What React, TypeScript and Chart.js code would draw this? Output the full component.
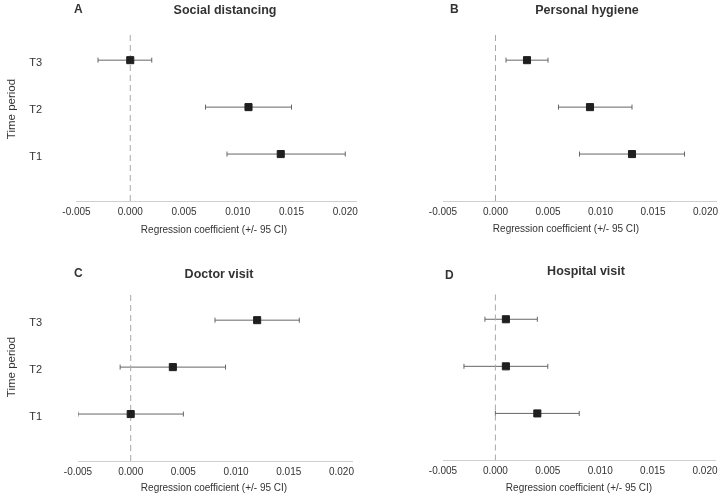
import React, { useEffect, useRef } from "react";
import { Chart, registerables } from "chart.js";

Chart.register(...registerables);

// ---------- data ----------
const periods = ["T1", "T2", "T3"];
const periodPos = [1, 2, 3];
const xTickValues = [-0.005, 0, 0.005, 0.01, 0.015, 0.02];
const xTickLabels = ["-0.005", "0.000", "0.005", "0.010", "0.015", "0.020"];

const panelLetters = ["A", "B", "C", "D"];
const panelTitles = ["Social distancing", "Personal hygiene", "Doctor visit", "Hospital visit"];
const xAxisTitle = "Regression coefficient (+/- 95 CI)";
const yAxisTitle = "Time period";

// values ordered T1, T2, T3
const socialEst = [0.014, 0.011, 0.0];
const socialLo = [0.009, 0.007, -0.003];
const socialHi = [0.02, 0.015, 0.002];

const hygieneEst = [0.013, 0.009, 0.003];
const hygieneLo = [0.008, 0.006, 0.001];
const hygieneHi = [0.018, 0.013, 0.005];

const doctorEst = [0.0, 0.004, 0.012];
const doctorLo = [-0.005, -0.001, 0.008];
const doctorHi = [0.005, 0.009, 0.016];

const hospitalEst = [0.004, 0.001, 0.001];
const hospitalLo = [0.0, -0.003, -0.001];
const hospitalHi = [0.008, 0.005, 0.004];

// ---------- layout / style ----------
const X_MIN = -0.005;
const X_MAX = 0.021;
const Y_MIN = 0;
const Y_MAX = 3.6;
const PW = 362;
const PH = 250;
const FONT = "'Liberation Sans', Arial, Helvetica, sans-serif";
const TEXT = "#333333";

type Panel = {
  left: number;
  top: number;
  est: number[];
  lo: number[];
  hi: number[];
  showY: boolean;
  area: { l: number; r: number; t: number; b: number };
  letterPos: [number, number];
  titlePos: [number, number];
  xTitlePos: [number, number];
  yTitlePos: [number, number];
};

const panels: Panel[] = [
  {
    left: 0, top: 0, est: socialEst, lo: socialLo, hi: socialHi, showY: true,
    area: { l: 76.5, r: 356, t: 32, b: 201 },
    letterPos: [74, 10], titlePos: [225, 11], xTitlePos: [214, 230], yTitlePos: [12, 109],
  },
  {
    left: 362, top: 0, est: hygieneEst, lo: hygieneLo, hi: hygieneHi, showY: false,
    area: { l: 81, r: 354, t: 32, b: 201 },
    letterPos: [88, 10], titlePos: [225, 11], xTitlePos: [204, 229.5], yTitlePos: [0, 0],
  },
  {
    left: 0, top: 250, est: doctorEst, lo: doctorLo, hi: doctorHi, showY: true,
    area: { l: 78, r: 352, t: 42, b: 211 },
    letterPos: [74, 24], titlePos: [219, 25], xTitlePos: [214, 238], yTitlePos: [12, 117],
  },
  {
    left: 362, top: 250, est: hospitalEst, lo: hospitalLo, hi: hospitalHi, showY: false,
    area: { l: 81, r: 353.5, t: 41, b: 210.5 },
    letterPos: [83, 25.5], titlePos: [224, 21.5], xTitlePos: [217, 238], yTitlePos: [0, 0],
  },
];

function buildChart(canvas: HTMLCanvasElement, p: Panel, idx: number) {
  const errorSets = periodPos.map((pos, i) => ({
    type: "scatter" as const,
    data: [
      { x: p.lo[i], y: pos },
      { x: p.hi[i], y: pos },
    ],
    showLine: true,
    borderColor: "#666666",
    borderWidth: 1,
    pointStyle: "line" as const,
    pointRotation: 90,
    pointRadius: 2.5,
    pointBorderColor: "#666666",
    pointBorderWidth: 1,
    order: 2,
  }));

  const zeroLine = {
    type: "scatter" as const,
    data: [
      { x: 0, y: Y_MIN },
      { x: 0, y: Y_MAX },
    ],
    showLine: true,
    borderColor: "#a8a8a8",
    borderWidth: 1,
    borderDash: [6, 4],
    pointRadius: 0,
    order: 1,
  };

  const markers = {
    type: "scatter" as const,
    data: periodPos.map((pos, i) => ({ x: p.est[i], y: pos })),
    pointStyle: "rect" as const,
    pointRadius: 5,
    backgroundColor: "#1f1f1f",
    borderColor: "#1f1f1f",
    borderWidth: 1,
    order: 0,
  };

  const texts = [
    { text: panelLetters[idx], x: p.letterPos[0], y: p.letterPos[1], font: `bold 12px ${FONT}`, align: "left", rot: 0 },
    { text: panelTitles[idx], x: p.titlePos[0], y: p.titlePos[1], font: `bold 12.5px ${FONT}`, align: "center", rot: 0 },
    { text: xAxisTitle, x: p.xTitlePos[0], y: p.xTitlePos[1], font: `10px ${FONT}`, align: "center", rot: 0 },
  ];
  if (p.showY) {
    texts.push({ text: yAxisTitle, x: p.yTitlePos[0], y: p.yTitlePos[1], font: `11.5px ${FONT}`, align: "center", rot: -Math.PI / 2 });
  }

  const textPlugin = {
    id: "panelText" + idx,
    afterDraw(chart: Chart) {
      const ctx = chart.ctx;
      for (const t of texts) {
        ctx.save();
        ctx.font = t.font;
        ctx.fillStyle = TEXT;
        ctx.textAlign = t.align as CanvasTextAlign;
        ctx.textBaseline = "middle";
        ctx.translate(t.x, t.y);
        if (t.rot) ctx.rotate(t.rot);
        ctx.fillText(t.text, 0, 0);
        ctx.restore();
      }
    },
  };

  return new Chart(canvas, {
    type: "scatter",
    data: { datasets: [...errorSets, zeroLine, markers] as any },
    options: {
      animation: false,
      responsive: false,
      devicePixelRatio: 1,
      layout: { padding: { left: 0, right: PW - p.area.r, top: p.area.t, bottom: 0 } },
      plugins: { legend: { display: false }, tooltip: { enabled: false }, title: { display: false } },
      scales: {
        x: {
          type: "linear",
          min: X_MIN,
          max: X_MAX,
          afterBuildTicks: (s: any) => {
            s.ticks = xTickValues.map((v) => ({ value: v }));
          },
          afterFit: (s: any) => {
            s.height = PH - p.area.b;
            s.paddingLeft = 0;
            s.paddingRight = 0;
          },
          ticks: {
            callback: (_v: any, i: number) => xTickLabels[i],
            font: { size: 10, family: FONT },
            color: TEXT,
            padding: 5,
            maxRotation: 0,
            autoSkip: false,
          },
          grid: { display: false, drawTicks: false },
          border: { display: true, color: "#cfcfcf", width: 1 },
        },
        y: {
          type: "linear",
          min: Y_MIN,
          max: Y_MAX,
          afterBuildTicks: (s: any) => {
            s.ticks = periodPos.map((v) => ({ value: v }));
          },
          afterFit: (s: any) => {
            s.width = p.area.l;
            s.paddingTop = 0;
            s.paddingBottom = 0;
          },
          ticks: {
            display: p.showY,
            callback: (_v: any, i: number) => periods[i],
            font: { size: 11, family: FONT },
            color: TEXT,
            padding: p.area.l - 42,
            labelOffset: 2.5,
            autoSkip: false,
          },
          grid: { display: false, drawTicks: false },
          border: { display: false },
        },
      },
    } as any,
    plugins: [textPlugin as any],
  });
}

function PanelCanvas({ p, idx }: { p: Panel; idx: number }) {
  const ref = useRef<HTMLCanvasElement | null>(null);
  useEffect(() => {
    if (!ref.current) return;
    const chart = buildChart(ref.current, p, idx);
    return () => chart.destroy();
  }, [p, idx]);
  return (
    <div style={{ position: "absolute", left: p.left, top: p.top, width: PW, height: PH }}>
      <canvas ref={ref} width={PW} height={PH} style={{ display: "block", width: PW, height: PH }} />
    </div>
  );
}

export default function App() {
  return (
    <div style={{ position: "absolute", left: 0, top: 0, width: 724, height: 500, background: "#ffffff" }}>
      {panels.map((p, i) => (
        <PanelCanvas key={i} p={p} idx={i} />
      ))}
    </div>
  );
}
